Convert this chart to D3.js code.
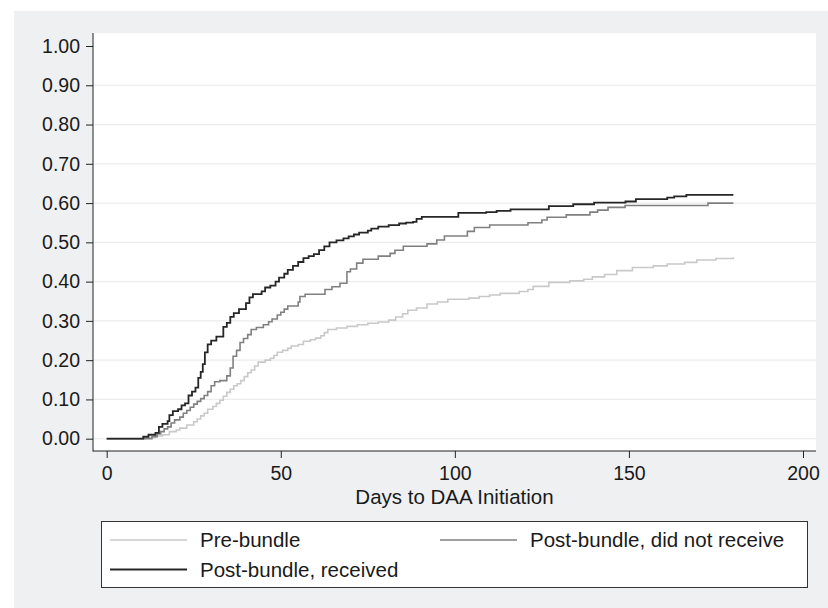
<!DOCTYPE html>
<html>
<head>
<meta charset="utf-8">
<script src="https://cdn.jsdelivr.net/npm/d3@7"></script>
<style>
    body { margin: 0; background: #ffffff; }
    text { font-family: "Liberation Sans", Arial, sans-serif; fill: #1a1a1a; }
</style>
</head>
<body>
<svg id="canvas" width="828" height="608"></svg>
<script>
/** Cumulative incidence of DAA initiation (step points: day, value) */
const preDays = [0, 11, 14, 16, 18, 20, 21, 23, 25, 26, 27, 28, 29, 30.5, 31.5, 32.5, 33.5, 34.5, 35.5, 36.5, 37.5, 38.5, 39.5, 40.5, 41.5, 42.5, 43.5, 45.5, 47, 48, 49, 50.5, 52, 53, 55, 56.5, 58.5, 60, 61.5, 62.5, 63.5, 66, 69, 72, 75, 78, 81, 83, 85, 86.5, 89, 92, 95, 98, 104, 107, 110, 113, 118.5, 121, 122.5, 127, 133, 137, 139.5, 143, 146.5, 151, 157, 161, 166, 169.5, 175, 180];
const preVals = [0, 0.003, 0.007, 0.01, 0.018, 0.022, 0.027, 0.035, 0.043, 0.05, 0.058, 0.065, 0.075, 0.082, 0.09, 0.098, 0.108, 0.118, 0.126, 0.135, 0.14, 0.148, 0.158, 0.168, 0.175, 0.185, 0.195, 0.2, 0.205, 0.212, 0.22, 0.225, 0.23, 0.236, 0.24, 0.248, 0.252, 0.256, 0.262, 0.27, 0.278, 0.282, 0.286, 0.29, 0.294, 0.297, 0.302, 0.31, 0.318, 0.327, 0.333, 0.343, 0.348, 0.355, 0.358, 0.362, 0.366, 0.37, 0.375, 0.38, 0.388, 0.398, 0.402, 0.406, 0.412, 0.418, 0.428, 0.436, 0.44, 0.445, 0.449, 0.455, 0.459, 0.462];

const notDays = [0, 13, 14.5, 15.5, 16.5, 17.5, 18.5, 19.5, 21, 22, 23, 24, 25, 26, 27, 28, 29, 30, 31, 32.5, 34.5, 35.5, 36.3, 37.3, 38.3, 39.3, 40.5, 41.5, 43, 45, 46.5, 47.5, 49, 50, 51, 52, 55, 55.5, 57, 62.7, 64.7, 67, 69, 70, 71.8, 73.6, 78, 81.4, 82.8, 85.2, 92, 94.8, 97, 103.6, 105.6, 110, 121, 125, 126.5, 132, 138.8, 141, 144, 148.9, 172.7, 180];
const notVals = [0, 0.005, 0.012, 0.018, 0.025, 0.03, 0.04, 0.048, 0.055, 0.065, 0.072, 0.08, 0.088, 0.095, 0.102, 0.11, 0.12, 0.135, 0.145, 0.148, 0.16, 0.18, 0.21, 0.225, 0.245, 0.255, 0.265, 0.278, 0.283, 0.29, 0.298, 0.305, 0.315, 0.322, 0.33, 0.338, 0.348, 0.362, 0.368, 0.38, 0.387, 0.396, 0.425, 0.432, 0.447, 0.457, 0.465, 0.472, 0.48, 0.49, 0.496, 0.506, 0.516, 0.528, 0.538, 0.544, 0.55, 0.557, 0.564, 0.57, 0.577, 0.582, 0.589, 0.594, 0.6, 0.6];

const recDays = [0, 10.5, 12, 14, 15, 16, 17.5, 18, 19, 20.5, 21.5, 22.5, 23.5, 24.5, 25.5, 26.3, 27, 27.6, 28.2, 29, 30, 31.5, 33.5, 34.5, 35.5, 36.5, 38, 40, 41, 42, 44.5, 45.5, 47, 48.5, 49.5, 51, 52, 53.5, 55, 56.5, 58, 59.5, 61, 62.5, 64, 66, 68, 69.5, 71, 72.5, 75, 76, 78, 81, 84, 86, 88, 89, 90.5, 101, 109, 112, 116, 127, 134, 140, 149, 152, 161, 163, 166.5, 180];
const recVals = [0, 0.005, 0.01, 0.015, 0.03, 0.038, 0.045, 0.06, 0.07, 0.075, 0.085, 0.09, 0.11, 0.12, 0.13, 0.155, 0.17, 0.19, 0.22, 0.24, 0.25, 0.26, 0.285, 0.295, 0.31, 0.32, 0.33, 0.345, 0.36, 0.368, 0.375, 0.385, 0.39, 0.4, 0.41, 0.42, 0.43, 0.44, 0.45, 0.46, 0.465, 0.47, 0.48, 0.49, 0.5, 0.505, 0.51, 0.515, 0.52, 0.525, 0.53, 0.535, 0.54, 0.544, 0.548, 0.55, 0.552, 0.56, 0.565, 0.575, 0.577, 0.58, 0.584, 0.592, 0.597, 0.601, 0.604, 0.61, 0.614, 0.617, 0.621, 0.621];

const seriesNames = ['Pre-bundle', 'Post-bundle, did not receive', 'Post-bundle, received'];
const seriesColors = ['#c9c9c9', '#808080', '#262626'];

const xTicks = [0, 50, 100, 150, 200];
const yTicks = [0, 0.1, 0.2, 0.3, 0.4, 0.5, 0.6, 0.7, 0.8, 0.9, 1.0];

let canvas = d3.select('#canvas');

/** Outer grey frame and white plot region */
canvas.append('rect')
    .attr('x', 14).attr('y', 11)
    .attr('width', 814).attr('height', 597)
    .attr('fill', '#eff0f2');

const plot = { left: 93, top: 33, right: 816, bottom: 451 };

canvas.append('rect')
    .attr('x', plot.left).attr('y', plot.top)
    .attr('width', plot.right - plot.left).attr('height', plot.bottom - plot.top)
    .attr('fill', '#ffffff');

/** Scales */
let xScale = d3.scaleLinear().domain([0, 200]).range([106.7, 803]);
let yScale = d3.scaleLinear().domain([0, 1]).range([438.7, 46]);

/** Grid lines */
canvas.append('g')
    .selectAll('line')
    .data(yTicks.filter((t) => t < 1))
    .enter()
    .append('line')
    .attr('x1', plot.left).attr('x2', plot.right)
    .attr('y1', (t) => yScale(t)).attr('y2', (t) => yScale(t))
    .attr('stroke', '#ececec')
    .attr('stroke-width', 1.2);

/** Axes */
let yAxis = d3.axisLeft(yScale)
    .tickValues(yTicks)
    .tickFormat(d3.format('.2f'))
    .tickSize(7)
    .tickPadding(6);

let xAxis = d3.axisBottom(xScale)
    .tickValues(xTicks)
    .tickSize(7)
    .tickPadding(8);

let yG = canvas.append('g')
    .attr('transform', `translate(${plot.left},0)`)
    .call(yAxis);

let xG = canvas.append('g')
    .attr('transform', `translate(0,${plot.bottom})`)
    .call(xAxis);

[yG, xG].forEach((g) => {
    g.select('.domain').remove();
    g.selectAll('line').attr('stroke', '#222');
    g.selectAll('text')
        .style('font-family', '"Liberation Sans", Arial, sans-serif')
        .style('font-size', '19.5px')
        .attr('fill', '#1a1a1a');
});

/** Axis lines */
canvas.append('line')
    .attr('x1', plot.left).attr('x2', plot.left)
    .attr('y1', plot.top).attr('y2', plot.bottom + 0.5)
    .attr('stroke', '#222');
canvas.append('line')
    .attr('x1', plot.left).attr('x2', plot.right)
    .attr('y1', plot.bottom).attr('y2', plot.bottom)
    .attr('stroke', '#222');

/** Axis title */
canvas.append('text')
    .attr('x', (plot.left + plot.right) / 2)
    .attr('y', 504)
    .attr('text-anchor', 'middle')
    .style('font-size', '20.5px')
    .text('Days to DAA Initiation');

/** Step curves */
let line = d3.line()
    .x((d) => xScale(d[0]))
    .y((d) => yScale(d[1]))
    .curve(d3.curveStepAfter);

const seriesData = [
    d3.zip(preDays, preVals),
    d3.zip(notDays, notVals),
    d3.zip(recDays, recVals)
];

canvas.append('g')
    .selectAll('path')
    .data(seriesData)
    .enter()
    .append('path')
    .attr('d', (d) => line(d))
    .attr('fill', 'none')
    .attr('stroke', (d, i) => seriesColors[i])
    .attr('stroke-width', (d, i) => i === 2 ? 1.8 : 1.6);

/** Legend */
canvas.append('rect')
    .attr('x', 101.5).attr('y', 521.5)
    .attr('width', 706).attr('height', 66)
    .attr('fill', '#ffffff')
    .attr('stroke', '#333')
    .attr('stroke-width', 1);

const legendPos = [
    { x: 110, y: 540, tx: 200 },
    { x: 440, y: 540, tx: 530 },
    { x: 110, y: 569.5, tx: 200 }
];

let legend = canvas.append('g')
    .selectAll('g')
    .data(seriesNames)
    .enter()
    .append('g');

legend.append('line')
    .attr('x1', (d, i) => legendPos[i].x)
    .attr('x2', (d, i) => legendPos[i].x + 77)
    .attr('y1', (d, i) => legendPos[i].y)
    .attr('y2', (d, i) => legendPos[i].y)
    .attr('stroke', (d, i) => seriesColors[i])
    .attr('stroke-width', (d, i) => i === 2 ? 1.8 : 1.6);

legend.append('text')
    .attr('x', (d, i) => legendPos[i].tx)
    .attr('y', (d, i) => legendPos[i].y + 7.3)
    .style('font-size', '20.5px')
    .text((d) => d);
</script>
</body>
</html>
